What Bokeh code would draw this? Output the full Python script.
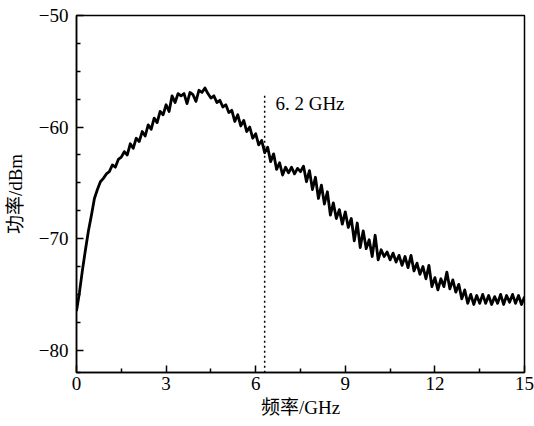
from bokeh.plotting import figure
from bokeh.models import Range1d, FixedTicker, Label
from bokeh.core.properties import value
from bokeh.embed import file_html
from bokeh.resources import INLINE

# ---- data ----
freq_step = 0.1  # GHz sampling of the trace
power_dbm = [
    -76.5, -74.8, -72.8, -71.0, -69.3, -67.9, -66.4, -65.6, -64.9, -64.6,
    -64.2, -64.0, -63.4, -63.6, -62.9, -62.7, -62.2, -62.5, -61.5, -61.9,
    -61.0, -61.3, -60.4, -60.8, -59.8, -60.2, -59.2, -59.6, -58.6, -58.9,
    -58.0, -58.6, -57.2, -57.8, -57.0, -57.2, -57.0, -57.9, -56.9, -57.1,
    -57.7, -56.7, -56.9, -56.5, -57.0, -57.4, -57.2, -57.8, -57.6, -58.2,
    -58.0, -58.7, -58.5, -59.5, -58.9, -59.9, -59.4, -60.4, -60.0, -61.0,
    -60.6, -61.6, -61.2, -62.3, -61.8, -63.1, -62.4, -63.8, -63.2, -64.3,
    -63.6, -64.1, -63.6, -64.2, -63.7, -64.0, -63.5, -64.9, -63.9, -65.6,
    -64.5, -66.4, -65.2, -66.9, -65.8, -67.9, -66.8, -68.2, -67.4, -68.7,
    -67.6, -69.0, -68.2, -70.2, -68.6, -70.8, -69.3, -70.9, -70.1, -71.6,
    -69.7, -71.9, -71.0, -71.6, -71.2, -71.9, -71.3, -72.1, -71.5, -72.4,
    -71.6, -72.6, -71.5, -72.9, -72.2, -73.2, -72.5, -73.6, -72.4, -74.3,
    -73.5, -74.6, -73.6, -74.3, -73.0, -74.5, -73.7, -74.8, -74.1, -75.4,
    -74.6, -75.8, -75.0, -75.9, -75.1, -75.8, -75.0, -75.8, -75.1, -75.9,
    -75.2, -75.8, -75.0, -75.9, -75.1, -75.7, -75.0, -75.8, -75.1, -75.9,
    -75.2,
]
freq_ghz = [round(i * freq_step, 1) for i in range(len(power_dbm))]

marker_freq = [6.3]
marker_top = [-57.2]
marker_bottom = [-82]
marker_text = "6. 2 GHz"

x_ticks = [0, 3, 6, 9, 12, 15]
x_minor = [1.5, 4.5, 7.5, 10.5, 13.5]
y_ticks = [-80, -70, -60, -50]
y_minor = [-82, -77.5, -75, -72.5, -67.5, -65, -62.5, -57.5, -55, -52.5]
y_tick_labels = {-80: "\u221280", -70: "\u221270", -60: "\u221260", -50: "\u221250"}

x_label = "频率/GHz"
y_label = "功率/dBm"

SERIF = "'Liberation Serif', 'Noto Sans CJK SC'"

p = figure(width=534, height=426, output_backend="svg", toolbar_location=None,
           x_range=Range1d(0, 15), y_range=Range1d(-82, -50),
           min_border_left=76, min_border_right=10, min_border_top=15, min_border_bottom=54)

p.xgrid.visible = False
p.ygrid.visible = False
p.outline_line_color = "black"
p.outline_line_width = 1.5
p.background_fill_color = "white"
p.border_fill_color = "white"

p.line(freq_ghz, power_dbm, line_color="black", line_width=2.8, line_join="round")

p.segment(x0=marker_freq, y0=marker_top, x1=marker_freq, y1=marker_bottom,
          line_color="black", line_width=1.5, line_dash=value("2 3"))
p.add_layout(Label(x=6.66, y=-57.9, text=marker_text, text_font=SERIF,
                   text_font_size="19px", text_baseline="middle", text_color="black"))

for ax in (p.xaxis[0], p.yaxis[0]):
    ax.axis_line_width = 1.5
    ax.axis_line_color = "black"
    ax.major_tick_in = 7
    ax.major_tick_out = 0
    ax.minor_tick_in = 4
    ax.minor_tick_out = 0
    ax.major_tick_line_width = 1.5
    ax.minor_tick_line_width = 1.5
    ax.major_label_text_font = SERIF
    ax.major_label_text_font_size = "19px"
    ax.major_label_text_color = "black"
    ax.axis_label_text_font = SERIF
    ax.axis_label_text_font_size = "19px"
    ax.axis_label_text_font_style = "normal"
    ax.axis_label_text_color = "black"

p.xaxis[0].ticker = FixedTicker(ticks=x_ticks, minor_ticks=x_minor)
p.yaxis[0].ticker = FixedTicker(ticks=y_ticks, minor_ticks=y_minor)
p.yaxis[0].major_label_overrides = y_tick_labels
p.xaxis[0].axis_label = x_label
p.yaxis[0].axis_label = y_label
p.xaxis[0].major_label_standoff = 4
p.yaxis[0].major_label_standoff = 8
p.xaxis[0].axis_label_standoff = 4
p.yaxis[0].axis_label_standoff = 10

open("out.html", "w").write(file_html(p, INLINE))
